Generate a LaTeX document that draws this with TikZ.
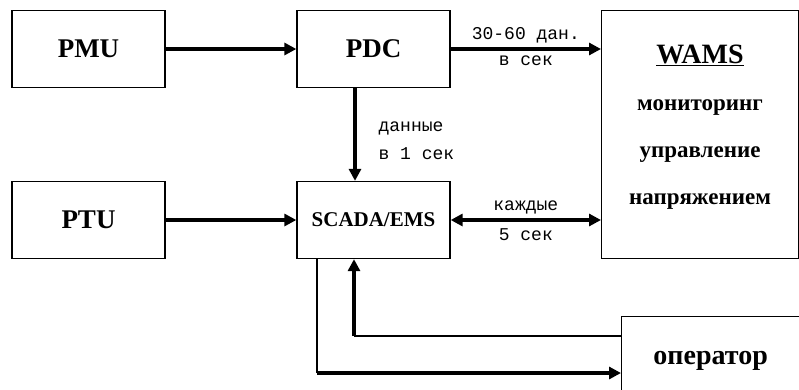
\documentclass[tikz,border=0pt]{standalone}
\usepackage{fontspec}
\setmainfont{Liberation Serif}
\newfontfamily\edgefont{Liberation Mono}
\usetikzlibrary{arrows.meta}
\tikzset{
  blk/.style={draw,line width=1.3pt,minimum width=153pt,minimum height=77pt,inner sep=0pt,
    font=\bfseries\fontsize{27}{30}\selectfont},
  arr/.style={line width=3.2pt,-{Triangle[length=12pt,width=12pt]}},
  darr/.style={line width=3.2pt,{Triangle[length=12pt,width=12pt]}-{Triangle[length=12pt,width=12pt]}},
  thinln/.style={line width=1.3pt},
  lbl/.style={font=\edgefont\fontsize{18}{28}\selectfont,inner sep=2pt}
}
\begin{document}
\begin{tikzpicture}[x=1pt,y=-1pt]
\useasboundingbox (0,0) rectangle (799,389);
% blocks
\node[blk] (pmu) at (88.5,49) {PMU};
\node[blk] (pdc) at (373.5,49) {PDC};
\node[blk] (ptu) at (88.5,220) {PTU};
\node[blk,font=\bfseries\fontsize{21}{24}\selectfont] (scada) at (373.5,220) {SCADA/EMS};
\node[blk,anchor=north west,minimum width=197pt,minimum height=248pt] (wams) at (601,10) {};
\node[align=center,font=\bfseries\fontsize{23}{47}\selectfont] (wamstxt) at (700,127)
  {{\fontsize{28}{47}\selectfont\underline{WAMS}}\\мониторинг\\управление\\напряжением};
\node[blk,anchor=north west,minimum width=178pt,minimum height=88pt,
  font=\bfseries\fontsize{28}{30}\selectfont] (oper) at (621,316) {оператор};
% links
\draw[arr] (pmu.east) -- (pdc.west);
\draw[arr] (pdc.east) -- (pdc.east -| wams.west)
  node[lbl,midway,above,yshift=2pt] {30-60 дан.} node[lbl,midway,below,yshift=-3pt] {в сек};
\draw[arr] ([xshift=-18.5pt]pdc.south) -- ([xshift=-18.5pt]scada.north)
  node[lbl,midway,right,align=left,xshift=20pt,yshift=-6pt] {данные\\в 1 сек};
\draw[arr] (ptu.east) -- (scada.west);
\draw[darr] (scada.east) -- (scada.east -| wams.west)
  node[lbl,midway,above,yshift=2pt] {каждые} node[lbl,midway,below,yshift=-5pt] {5 сек};
% operator loop
\coordinate (fb) at (354,336);
\coordinate (out) at (317,373);
\draw[thinln] (oper.west |- fb) -- (fb);
\draw[arr] (fb) -- (fb |- scada.south);
\draw[thinln] (scada.south -| out) -- (out);
\draw[arr] (out) -- (out -| oper.west);
\end{tikzpicture}
\end{document}
